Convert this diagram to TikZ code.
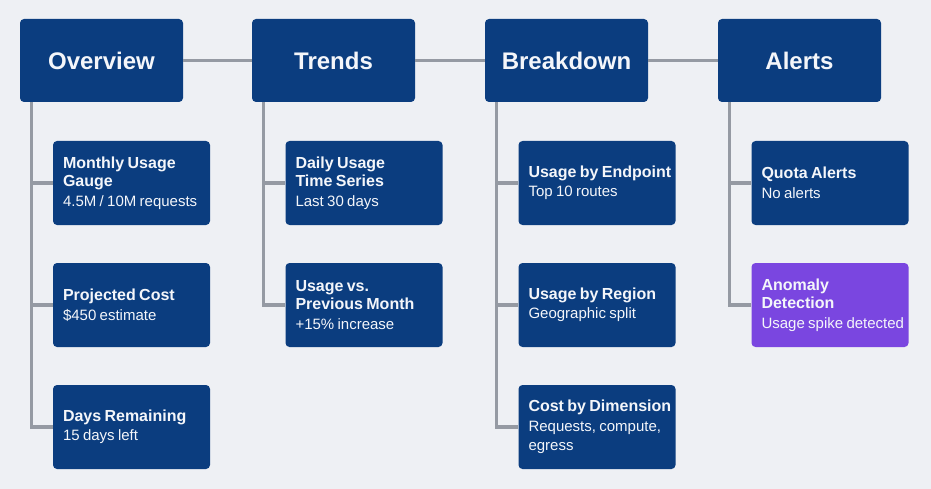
\documentclass[tikz,border=0pt]{standalone}
\usepackage{fontspec}
\setmainfont{Liberation Sans}
\definecolor{bg}{HTML}{EEF0F4}
\definecolor{navy}{HTML}{0B3D7F}
\definecolor{purp}{HTML}{7A46E0}
\definecolor{conn}{HTML}{959AA3}
\definecolor{txt}{HTML}{F4F6FA}
\newcommand{\ttl}[1]{{\fontsize{16}{18.5}\selectfont\bfseries #1\par}}
\newcommand{\sbt}[1]{{\fontsize{15}{19.5}\selectfont #1\par}}
\begin{document}
\begin{tikzpicture}[x=1pt,y=-1pt,
  topbox/.style={fill=navy,rounded corners=4pt,minimum width=163pt,minimum height=83pt,inner sep=0pt,
    text=txt,font=\fontsize{24}{28}\selectfont\bfseries},
  childbox/.style={fill=navy,rounded corners=4pt,minimum width=157pt,minimum height=84pt,inner sep=0pt},
  alertbox/.style={childbox,fill=purp},
  lbl/.style={anchor=west,align=left,text width=146pt,text=txt,inner sep=0pt,xshift=10pt},
  link/.style={draw=conn,line width=3.2pt},
]
\fill[bg] (0,0) rectangle (931,489);
\useasboundingbox (0,0) rectangle (931,489);

% top row
\node[topbox] (ov) at (101.5,60.5) {Overview};
\node[topbox] (tr) at (333.5,60.5) {Trends};
\node[topbox] (bd) at (566.5,60.5) {Breakdown};
\node[topbox] (al) at (799.5,60.5) {Alerts};

% children boxes
\node[childbox] (c11) at (131.5,183) {};
\node[childbox] (c12) at (131.5,305) {};
\node[childbox] (c13) at (131.5,427) {};
\node[childbox] (c21) at (364,183) {};
\node[childbox] (c22) at (364,305) {};
\node[childbox] (c31) at (597,183) {};
\node[childbox] (c32) at (597,305) {};
\node[childbox] (c33) at (597,427) {};
\node[childbox] (c41) at (830,183) {};
\node[alertbox] (c42) at (830,305) {};

% labels
\node[lbl] (l11) at (c11.west) {\ttl{Monthly Usage\\Gauge}\sbt{4.5M / 10M requests}};
\node[lbl] (l12) at (c12.west) {\ttl{Projected Cost}\sbt{\$450 estimate}};
\node[lbl] (l13) at (c13.west) {\ttl{Days Remaining}\sbt{15 days left}};
\node[lbl] (l21) at (c21.west) {\ttl{Daily Usage\\Time Series}\sbt{Last 30 days}};
\node[lbl] (l22) at (c22.west) {\ttl{Usage vs.\\Previous Month}\sbt{+15\% increase}};
\node[lbl] (l31) at (c31.west) {\ttl{Usage by Endpoint}\sbt{Top 10 routes}};
\node[lbl] (l32) at (c32.west) {\ttl{Usage by Region}\sbt{Geographic split}};
\node[lbl] (l33) at (c33.west) {\ttl{Cost by Dimension}\sbt{Requests, compute,\\egress}};
\node[lbl] (l41) at (c41.west) {\ttl{Quota Alerts}\sbt{No alerts}};
\node[lbl] (l42) at (c42.west) {\ttl{Anomaly\\Detection}\sbt{Usage spike detected}};

% connectors
\draw[link] (ov.east) -- (tr.west);
\draw[link] (tr.east) -- (bd.west);
\draw[link] (bd.east) -- (al.west);
\coordinate (t1) at ([xshift=12pt]ov.south west);
\coordinate (t2) at ([xshift=12pt]tr.south west);
\coordinate (t3) at ([xshift=12pt]bd.south west);
\coordinate (t4) at ([xshift=12pt]al.south west);
\foreach \t/\c in {t1/c11,t1/c12,t1/c13,t2/c21,t2/c22,t3/c31,t3/c32,t3/c33,t4/c41,t4/c42}
  \draw[link] (\t) |- (\c.west);
\end{tikzpicture}
\end{document}
